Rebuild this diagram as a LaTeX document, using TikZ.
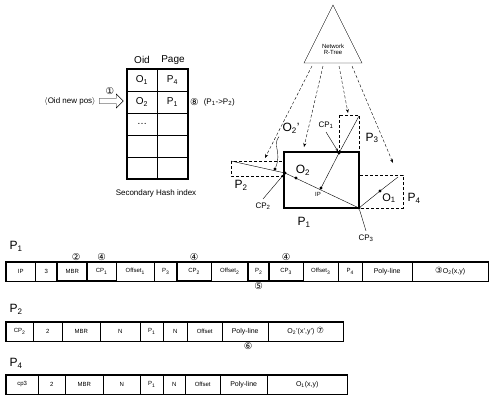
\documentclass[tikz,border=0pt]{standalone}
\usepackage{fontspec}
\setmainfont{Liberation Sans}
\newfontfamily\circfont{DejaVu Sans}
\usetikzlibrary{shapes.arrows,arrows.meta}
\newcommand{\cnum}[1]{{\circfont #1}}
\newcommand{\fs}[1]{\fontsize{#1}{#1}\selectfont}

\begin{document}
\begin{tikzpicture}[x=1pt,y=-1pt,
  cell/.style={draw, thin, anchor=west, minimum height=19pt, inner sep=0pt, font=\fs{6}},
  hot/.style={line width=1.8pt},
  frame/.style={line width=1.1pt},
  region/.style={densely dashed, thin},
  tree/.style={densely dashed, thin, -{Stealth[length=4pt]}},
  pt/.style={circle, fill, inner sep=0pt, minimum size=3.2pt},
  cn/.style={font=\fs{9.5}, inner sep=0pt}]

  \useasboundingbox (0,0) rectangle (494,399);

  % ---------------- secondary hash index ----------------
  \node[font=\fs{10}] (hoid) at (142,60) {Oid};
  \node[font=\fs{10}] (hpage) at (173,60) {Page};
  \foreach \ya/\txa/\txb [count=\i] in {80/O\textsubscript{1}/P\textsubscript{4}, 102/O\textsubscript{2}/P\textsubscript{1}, 124/\ldots/, 146//, 168//}
  {
    \node[draw, thin, minimum width=30pt, minimum height=22pt, inner sep=0pt, outer sep=0pt, font=\fs{10}] (ha\i) at (142,\ya) {\txa};
    \node[draw, thin, minimum width=31pt, minimum height=22pt, inner sep=0pt, outer sep=0pt, font=\fs{10}] (hb\i) at (172.5,\ya) {\txb};
  }
  \draw[frame] (ha1.north west) rectangle (hb5.south east);
  \node[font=\fs{8}] (hcap) at (156,193) {Secondary Hash index};

  \node[single arrow, draw, thin, minimum height=24pt, minimum width=14pt,
        single arrow head extend=3pt, inner sep=1.5pt] (harrow) at (110,101) {};
  \node[cn, above=3pt] (c1) at (harrow.north) {\cnum{①}};
  \node[font=\fs{8}, anchor=east] (hnew) at (harrow.west) {$\langle$Oid new pos$\rangle$\hspace{4pt}};
  \node[cn, anchor=west] (c8) at (190,102) {\cnum{⑧}};
  \node[font=\fs{8}, anchor=west] (hmove) at (c8.east) {\,(P\textsubscript{1}->P\textsubscript{2})};

  % ---------------- network R-tree and pages ----------------
  \coordinate (apex) at (333,5);
  \coordinate (bl) at (304,63);
  \coordinate (br) at (362,63);
  \draw[thin] (apex) -- (bl) -- (br) -- cycle;
  \node[font=\fs{6}, align=center] (rtree) at (333,49) {Network\\R-Tree};

  % page regions
  \draw[region] (231,161) rectangle (284,176);
  \draw[region] (339,115) rectangle (359,152);
  \draw[region] (359,175) rectangle (403,208);
  \draw[frame] (284,152) rectangle (359,208);

  \node[pt] (cp1) at (339,153) {};
  \node[pt] (cp2) at (285,173) {};
  \node[pt] (cp3) at (359,208) {};
  \node[pt] (ip) at (321,188) {};
  \node[pt] (o2) at (296,178) {};
  \node[pt] (o2n) at (275,169) {};
  \node[pt] (o1) at (380,191) {};
  \coordinate (p2end) at (231,161);
  \coordinate (p3end) at (359,116);
  \coordinate (p4end) at (398,177);

  % the poly-line through the pages
  \draw[thin] (p2end) -- (cp2.center) -- (cp3.center) -- (o1.center) -- (p4end);
  \draw[thin] (cp1.center) -- (ip.center);
  \draw[thin] (cp1.center) -- (p3end);

  % links from the tree to the pages
  \draw[tree] (312,66) -- (265,158);
  \draw[tree] (323,66) -- (304,147);
  \draw[tree] (339,66) -- (348,113);
  \draw[tree] (352,66) -- (393,163);

  % labels
  \node[font=\fs{12}] (lo2) at (303,170) {O\textsubscript{2}};
  \node[font=\fs{6}] (lip) at (318,194) {IP};
  \node[font=\fs{11}] (lo1) at (389,198) {O\textsubscript{1}};
  \node[font=\fs{12}] (lo2n) at (291,128) {O\textsubscript{2}'};
  \node[font=\fs{8}] (lcp1) at (326,125) {CP\textsubscript{1}};
  \node[font=\fs{8}] (lcp2) at (263,206) {CP\textsubscript{2}};
  \node[font=\fs{8}] (lcp3) at (366,238) {CP\textsubscript{3}};
  \node[font=\fs{12}] (lp1) at (304,222) {P\textsubscript{1}};
  \node[font=\fs{12}] (lp2) at (241,185) {P\textsubscript{2}};
  \node[font=\fs{12}] (lp3) at (372,138) {P\textsubscript{3}};
  \node[font=\fs{12}] (lp4) at (414,198) {P\textsubscript{4}};
  \draw[thin] (lo2n.south west) .. controls (272,145) and (282,152) .. (o2n);
  \draw[thin, -{Stealth[length=3pt]}] (lcp1.south) -- (cp1);
  \draw[thin, -{Stealth[length=3pt]}] (lcp2.north) -- (cp2);
  \draw[thin] (lcp3.north) -- (cp3);

  % ---------------- page records ----------------
  \node[font=\fs{12}, anchor=west] (rp1) at (6,246) {P\textsubscript{1}};
  \foreach \xa/\xb/\txt [count=\i] in {6/35/IP, 35/57/3, 57/87/MBR, 87/116/CP\textsubscript{1},
      116/154/Offset\textsubscript{1}, 154/177/P\textsubscript{3}, 177/211/CP\textsubscript{2},
      211/248/Offset\textsubscript{2}, 248/269/P\textsubscript{2}, 269/303/CP\textsubscript{3},
      303/338/Offset\textsubscript{3}, 338/362/P\textsubscript{4}, 362/412/{\fs{7}Poly-line},
      412/488/{\fs{7}{\circfont\fs{8.5}③}O\textsubscript{2}(x,y)}}
    \node[cell, minimum width={(\xb-\xa)*1pt}] (r1c\i) at (\xa,271.5) {\txt};
  \draw[frame] (r1c1.north west) rectangle (r1c14.south east);
  \foreach \i in {3,4,7,9,10}
    \draw[hot] (r1c\i.north west) rectangle (r1c\i.south east);
  \node[cn, above=1.5pt, xshift=4pt] (c2) at (r1c3.north) {\cnum{②}};
  \node[cn, above=1.5pt] (c4a) at (r1c4.north) {\cnum{④}};
  \node[cn, above=1.5pt] (c4b) at (r1c7.north) {\cnum{④}};
  \node[cn, above=1.5pt] (c4c) at (r1c10.north) {\cnum{④}};
  \node[cn, below=1.5pt] (c5) at (r1c9.south) {\cnum{⑤}};

  \node[font=\fs{12}, anchor=west] (rp2) at (6,309) {P\textsubscript{2}};
  \foreach \xa/\xb/\txt [count=\i] in {6/33/CP\textsubscript{2}, 33/62/2, 62/100/MBR, 100/140/N,
      140/163/P\textsubscript{1}, 163/187/N, 187/222/Offset, 222/268/{\fs{7}Poly-line},
      268/343/{\fs{7}O\textsubscript{2}'(x',y') {\circfont\fs{8.5}⑦}}}
    \node[cell, minimum width={(\xb-\xa)*1pt}] (r2c\i) at (\xa,331.5) {\txt};
  \draw[frame] (r2c1.north west) rectangle (r2c9.south east);
  \node[cn, below=1.5pt, xshift=3pt] (c6) at (r2c8.south) {\cnum{⑥}};

  \node[font=\fs{12}, anchor=west] (rp4) at (6,363) {P\textsubscript{4}};
  \foreach \xa/\xb/\txt [count=\i] in {6/38/cp3, 38/65/2, 65/103/MBR, 103/140/N,
      140/163/P\textsubscript{1}, 163/185/N, 185/220/Offset, 220/267/{\fs{7}Poly-line},
      267/347/{\fs{7}O\textsubscript{1}(x,y)}}
    \node[cell, minimum width={(\xb-\xa)*1pt}] (r4c\i) at (\xa,384.5) {\txt};
  \draw[frame] (r4c1.north west) rectangle (r4c9.south east);

\end{tikzpicture}
\end{document}
